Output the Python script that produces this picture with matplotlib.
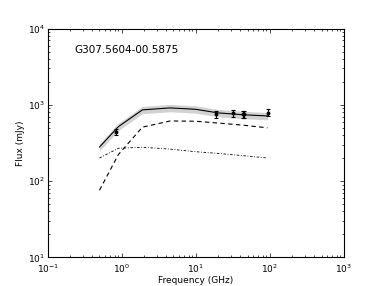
import matplotlib
matplotlib.use("Agg")
import matplotlib.pyplot as plt
import numpy as np

# Model curves
model_freq = [0.5, 0.9, 1.9, 4.5, 10, 20, 45, 93]
total_flux = [280, 518, 860, 912, 875, 785, 740, 716]
band_frac = 0.11
dashed_flux = [76, 223, 510, 615, 610, 578, 540, 500]
dashdot_flux = [201, 270, 278, 263, 243, 231, 215, 201]

# Observed points
obs_freq = [0.843, 19, 32, 43, 45, 95]
obs_flux = [442, 762, 778, 755, 755, 793]
obs_err = [45, 80, 75, 75, 75, 80]

source_name = "G307.5604-00.5875"

plt.rcParams['font.family'] = ['DejaVu Sans']
fig = plt.figure(figsize=(3.82, 2.86), dpi=100)
ax = fig.add_axes([0.125, 0.1, 0.775, 0.8])

tf = np.array(total_flux, dtype=float)
ax.fill_between(model_freq, tf * (1 - band_frac), tf * (1 + band_frac),
                color='#d2d2d2', linewidth=0, zorder=1)
ax.plot(model_freq, total_flux, color='black', lw=0.8, zorder=3)
ax.plot(model_freq, dashed_flux, color='black', lw=0.8, ls=(0, (4, 3)), zorder=2)
ax.plot(model_freq, dashdot_flux, color='black', lw=0.6, ls=(0, (3, 2, 1, 2)), zorder=2)
ax.errorbar(obs_freq, obs_flux, yerr=obs_err, fmt='o', color='black',
            ms=1.8, elinewidth=0.8, capsize=1.5, capthick=0.8, zorder=4)

ax.set_xscale('log')
ax.set_yscale('log')
ax.set_xlim(0.1, 1000)
ax.set_ylim(10, 10000)
ax.set_xlabel('Frequency (GHz)', fontsize=6.5, labelpad=1)
ax.set_ylabel('Flux (mJy)', fontsize=6.5, labelpad=2)
ax.tick_params(which='both', direction='in', top=True, right=True,
               labelsize=6.5, width=0.5)
ax.tick_params(which='major', length=3)
ax.tick_params(axis='x', which='major', pad=3.5)
ax.tick_params(axis='y', which='major', pad=2)
ax.tick_params(which='minor', length=1.5)
for s in ax.spines.values():
    s.set_linewidth(0.8)
ax.text(0.09, 0.905, source_name, transform=ax.transAxes, fontsize=7.5,
        ha='left', va='center')

fig.savefig('out.png', dpi=100)
